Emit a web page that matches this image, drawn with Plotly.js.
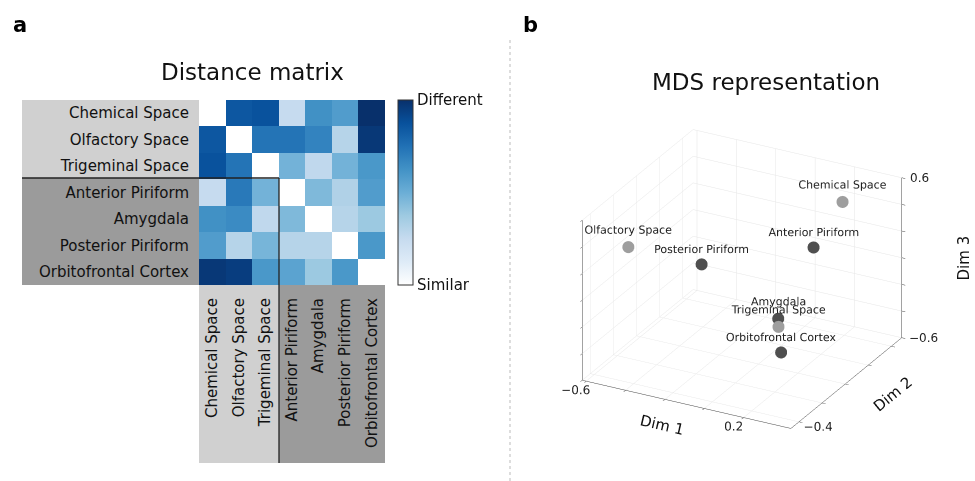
<!DOCTYPE html>
<html>
<head>
<meta charset="utf-8">
<script src="https://cdn.plot.ly/plotly-3.0.1.min.js"></script>
<style>html,body{margin:0;padding:0;background:#fff;}#chart{width:975px;height:481px;}</style>
</head>
<body>
<div id="chart"></div>
<script>
// ---- Data ----
const regionLabels = ['Chemical Space','Olfactory Space','Trigeminal Space','Anterior Piriform','Amygdala','Posterior Piriform','Orbitofrontal Cortex'];
const distanceRow0 = [0.00, 0.85, 0.87, 0.25, 0.63, 0.58, 1.00];
const distanceRow1 = [0.85, 0.00, 0.74, 0.74, 0.68, 0.30, 0.97];
const distanceRow2 = [0.87, 0.74, 0.00, 0.48, 0.27, 0.48, 0.60];
const distanceRow3 = [0.25, 0.72, 0.48, 0.00, 0.45, 0.32, 0.58];
const distanceRow4 = [0.63, 0.65, 0.27, 0.45, 0.00, 0.30, 0.38];
const distanceRow5 = [0.58, 0.30, 0.47, 0.30, 0.30, 0.00, 0.60];
const distanceRow6 = [0.97, 0.95, 0.60, 0.55, 0.38, 0.60, 0.00];
const colorbarTickVals = [0, 1];
const colorbarTickText = ['Similar', 'Different'];

const mdsNames = ['Chemical Space','Olfactory Space','Trigeminal Space','Anterior Piriform','Amygdala','Posterior Piriform','Orbitofrontal Cortex'];
const mdsGroup = ['space','space','space','brain','brain','brain','brain'];
const mdsDim1 = [0.25, -0.58, 0.13, 0.22, 0.07, -0.29, 0.29];
const mdsDim2 = [0.30, -0.14, -0.05, 0.10, 0.05, 0.00, -0.30];
const mdsDim3 = [0.49, 0.18, -0.24, 0.28, -0.27, 0.05, -0.20];

const dim1Range = [-0.62, 0.44];
const dim2Range = [-0.47, 0.49];
const dim3Range = [-0.6, 0.6];
const dim1TickVals = [-0.6, -0.4, -0.2, 0, 0.2];
const dim1TickText = ['\u22120.6', '', '', '', '0.2'];
const dim2TickVals = [-0.4, -0.2, 0, 0.2, 0.4];
const dim2TickText = ['\u22120.4', '', '', '', ''];
const dim3TickVals = [-0.6, -0.4, -0.2, 0, 0.2, 0.4, 0.6];
const dim3TickText = ['\u22120.6', '', '', '', '', '', '0.6'];

// ---- Build ----
const W = 975, H = 481;
const px = v => v / W;
const py = v => 1 - v / H;
const FONT = 'DejaVu Sans, Arial, sans-serif';

const z = [distanceRow0, distanceRow1, distanceRow2, distanceRow3, distanceRow4, distanceRow5, distanceRow6];
const bluesScale = [
  [0, '#ffffff'], [0.125, '#deebf7'], [0.25, '#c6dbef'], [0.375, '#9ecae1'],
  [0.5, '#6baed6'], [0.625, '#4292c6'], [0.75, '#2171b5'], [0.875, '#08519c'], [1, '#08306b']
];

const heat = {
  type: 'heatmap', z: z, x: regionLabels, y: regionLabels,
  zmin: 0, zmax: 1, colorscale: bluesScale, xgap: 0, ygap: 0,
  hoverinfo: 'x+y+z',
  colorbar: {
    x: px(398), xanchor: 'left', y: py(192.5), yanchor: 'middle',
    lenmode: 'pixels', len: 185, thicknessmode: 'pixels', thickness: 15,
    xpad: 0, ypad: 0, outlinewidth: 1, outlinecolor: '#333',
    tickvals: colorbarTickVals, ticktext: colorbarTickText, ticks: '',
    tickfont: {family: FONT, size: 15, color: '#111'}
  }
};

const colorFor = g => g === 'space' ? '#9e9e9e' : '#4f4f4f';
const scatter = {
  type: 'scatter3d', mode: 'markers+text',
  x: mdsDim1, y: mdsDim2, z: mdsDim3, text: mdsNames,
  textposition: 'top center',
  textfont: {family: FONT, size: 11, color: '#222'},
  marker: {size: 7, color: mdsGroup.map(colorFor), line: {width: 0}, opacity: 1},
  hoverinfo: 'text', showlegend: false, scene: 'scene'
};

const axis3d = (title, range, tv, tt) => ({
  title: {text: title, font: {family: FONT, size: 15, color: '#111'}},
  range: range, tickvals: tv, ticktext: tt, tickangle: 0,
  tickfont: {family: FONT, size: 12, color: '#222'},
  showbackground: false, gridcolor: '#e6e6e6', gridwidth: 1,
  showline: true, linecolor: '#444', linewidth: 1,
  ticks: 'outside', ticklen: 4, tickcolor: '#444',
  zeroline: false, showspikes: false
});

const zAxis = axis3d('', dim3Range, dim3TickVals, dim3TickText);
zAxis.showticklabels = false;
zAxis.mirror = 'allticks';

const shapes = [
  {type: 'rect', xref: 'paper', yref: 'paper', x0: px(22), x1: px(199), y0: py(178), y1: py(100), fillcolor: '#d0d0d0', line: {width: 0}, layer: 'below'},
  {type: 'rect', xref: 'paper', yref: 'paper', x0: px(22), x1: px(199), y0: py(285), y1: py(178), fillcolor: '#9b9b9b', line: {width: 0}, layer: 'below'},
  {type: 'rect', xref: 'paper', yref: 'paper', x0: px(199), x1: px(279), y0: py(463), y1: py(285), fillcolor: '#d0d0d0', line: {width: 0}, layer: 'below'},
  {type: 'rect', xref: 'paper', yref: 'paper', x0: px(279), x1: px(385), y0: py(463), y1: py(285), fillcolor: '#9b9b9b', line: {width: 0}, layer: 'below'},
  {type: 'line', xref: 'paper', yref: 'paper', x0: px(22), x1: px(279), y0: py(178), y1: py(178), line: {color: '#222', width: 1.3}, layer: 'above'},
  {type: 'line', xref: 'paper', yref: 'paper', x0: px(279), x1: px(279), y0: py(178), y1: py(463), line: {color: '#222', width: 1.3}, layer: 'above'},
  {type: 'line', xref: 'paper', yref: 'paper', x0: px(510), x1: px(510), y0: py(40), y1: py(481), line: {color: '#bbbbbb', width: 1, dash: 'dot'}, layer: 'above'}
];

const annotations = [
  {text: '<b>a</b>', xref: 'paper', yref: 'paper', x: px(11), y: py(25), xanchor: 'left', yanchor: 'middle', showarrow: false, font: {family: FONT, size: 21, color: '#000'}},
  {text: '<b>b</b>', xref: 'paper', yref: 'paper', x: px(521), y: py(25), xanchor: 'left', yanchor: 'middle', showarrow: false, font: {family: FONT, size: 21, color: '#000'}},
  {text: 'Distance matrix', xref: 'paper', yref: 'paper', x: px(252), y: py(72), xanchor: 'center', yanchor: 'middle', showarrow: false, font: {family: FONT, size: 23, color: '#111'}},
  {text: 'MDS representation', xref: 'paper', yref: 'paper', x: px(766), y: py(82), xanchor: 'center', yanchor: 'middle', showarrow: false, font: {family: FONT, size: 23, color: '#111'}}
];

const sceneAnnotations = [
  {x: dim1Range[1], y: dim2Range[1], z: dim3Range[1], text: '0.6', showarrow: false, xanchor: 'left', xshift: 6, font: {family: FONT, size: 12, color: '#222'}},
  {x: dim1Range[1], y: dim2Range[1], z: dim3Range[0], text: '\u22120.6', showarrow: false, xanchor: 'left', xshift: 5, font: {family: FONT, size: 12, color: '#222'}},
  {x: dim1Range[1], y: dim2Range[1], z: 0, text: 'Dim 3', textangle: -90, showarrow: false, xanchor: 'center', xshift: 62, font: {family: FONT, size: 15, color: '#111'}}
];

const layout = {
  width: W, height: H, margin: {l: 0, r: 0, t: 0, b: 0},
  paper_bgcolor: '#ffffff', plot_bgcolor: '#ffffff', showlegend: false,
  font: {family: FONT},
  xaxis: {domain: [px(199), px(385)], anchor: 'y', side: 'bottom', tickangle: -90,
          ticks: 'outside', ticklen: 6, tickcolor: 'rgba(0,0,0,0)', showgrid: false, zeroline: false, showline: false,
          tickfont: {family: FONT, size: 15, color: '#111'}, fixedrange: true},
  yaxis: {domain: [py(285), py(100)], anchor: 'x', autorange: 'reversed',
          ticks: 'outside', ticklen: 6, tickcolor: 'rgba(0,0,0,0)', showgrid: false, zeroline: false, showline: false,
          tickfont: {family: FONT, size: 15, color: '#111'}, fixedrange: true},
  scene: {
    domain: {x: [px(520), px(964)], y: [py(468), py(90)]},
    aspectmode: 'manual', aspectratio: {x: 1.25, y: 1.25, z: 0.94},
    camera: {eye: {x: 0.68, y: -1.28, z: 0.70}, center: {x: 0, y: 0, z: 0}, up: {x: 0, y: 0, z: 1},
             projection: {type: 'orthographic'}},
    xaxis: axis3d('Dim 1', dim1Range, dim1TickVals, dim1TickText),
    yaxis: axis3d('Dim 2', dim2Range, dim2TickVals, dim2TickText),
    zaxis: zAxis,
    annotations: sceneAnnotations
  },
  shapes: shapes, annotations: annotations
};

Plotly.newPlot('chart', [heat, scatter], layout, {displayModeBar: false});
</script>
</body>
</html>
